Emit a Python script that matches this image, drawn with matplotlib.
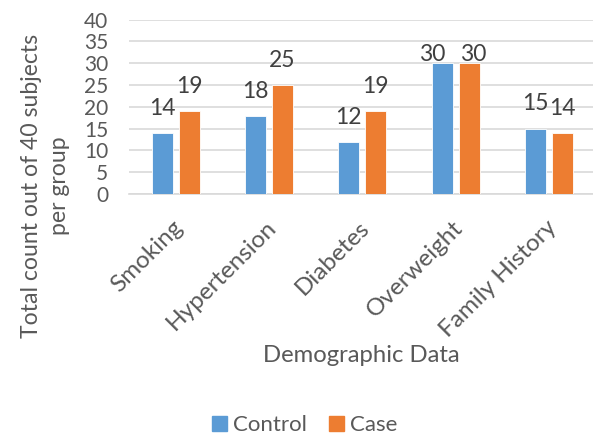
import numpy as np
import matplotlib
matplotlib.use("Agg")
from matplotlib import pyplot as plt
from matplotlib.patches import Patch
from matplotlib.transforms import ScaledTranslation

categories = ["Smoking", "Hypertension", "Diabetes", "Overweight", "Family History"]
control = [14, 18, 12, 30, 15]
case = [19, 25, 19, 30, 14]
y_ticks = [0, 5, 10, 15, 20, 25, 30, 35, 40]

BLUE = "#5B9BD5"
ORANGE = "#ED7D31"
TEXT = "#595959"
GRID = "#D9D9D9"

# how far above each bar top the value labels sit (data units),
# and a sideways nudge in pixels so the Overweight pair doesn't collide
label_lift = [5.6, 5.6, 5.6, 2.0, 5.7]
nudge_control = [0, 0, 0, -10, 0]
nudge_case = [0, 0, 0, 4, 0]

plt.rcParams["font.family"] = ["Lato", "DejaVu Sans"]

fig = plt.figure(figsize=(5.93, 4.37), dpi=100)
ax = fig.add_axes([0.2175, 0.556, 0.787, 0.399])

x = np.arange(len(categories))
w = 0.225
off = 0.145
ax.bar(x - off, control, w, color=BLUE, edgecolor="white", linewidth=0.6, zorder=3)
ax.bar(x + off, case, w, color=ORANGE, edgecolor="white", linewidth=0.6, zorder=3)

for xs, vals, nudges in ((x - off, control, nudge_control), (x + off, case, nudge_case)):
    for xi, v, lift, dx in zip(xs, vals, label_lift, nudges):
        ax.annotate(str(v), (xi, v + lift), xytext=(dx * 0.72, 0),
                    textcoords="offset points", ha="center", va="center",
                    fontsize=16.5, color="#404040")

ax.set_xlim(-0.5, len(categories) - 0.5)
ax.set_ylim(0, 40)
ax.set_yticks(y_ticks)
ax.set_yticklabels([str(t) for t in y_ticks], fontsize=15, color=TEXT)
ax.yaxis.grid(True, color=GRID, linewidth=1.2, zorder=0)
ax.set_axisbelow(True)
ax.tick_params(axis="y", length=0, pad=15)
ax.tick_params(axis="x", length=0, pad=0)
for s in ["top", "right", "left"]:
    ax.spines[s].set_visible(False)
ax.spines["bottom"].set_color(GRID)
ax.spines["bottom"].set_linewidth(1.2)

ax.set_xticks(x)
ax.set_xticklabels(categories, rotation=45, ha="right", va="center",
                   rotation_mode="anchor", fontsize=17.5, color=TEXT)
shift = ScaledTranslation(0.04, -0.30, fig.dpi_scale_trans)
for lbl in ax.get_xticklabels():
    lbl.set_transform(lbl.get_transform() + shift)

fig.text(0.077, 1 - 186 / 437, "Total count out of 40 subjects\nper group",
         rotation=90, ha="center", va="center", multialignment="center",
         fontsize=16.6, color=TEXT, linespacing=1.45)
fig.text(361 / 593, 1 - 355 / 437, "Demographic Data", ha="center", va="center",
         fontsize=17.2, color=TEXT)

handles = [Patch(color=BLUE, label="Control"), Patch(color=ORANGE, label="Case")]
fig.legend(handles=handles, loc="center", bbox_to_anchor=(305 / 593, 1 - 425 / 437),
           ncol=2, frameon=False, fontsize=16, handlelength=0.65, handleheight=0.65,
           handletextpad=0.3, columnspacing=1.0, labelcolor=TEXT)

fig.savefig("out.png", dpi=100)
